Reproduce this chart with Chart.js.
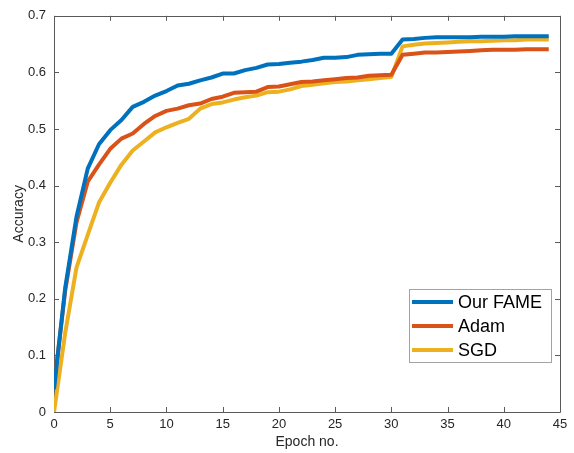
<!DOCTYPE html>
<html>
<head>
<meta charset="utf-8">
<script src="https://cdn.jsdelivr.net/npm/chart.js@4/dist/chart.umd.min.js"></script>
<style>
  html, body { margin: 0; padding: 0; background: #fff; }
  #wrap { width: 574px; height: 453px; }
</style>
</head>
<body>
<div id="wrap"><canvas id="c" width="574" height="453"></canvas></div>
<script>
const epochs = [0,1,2,3,4,5,6,7,8,9,10,11,12,13,14,15,16,17,18,19,20,21,22,23,24,25,26,27,28,29,30,31,32,33,34,35,36,37,38,39,40,41,42,43,44];
const seriesNames = ['Our FAME', 'Adam', 'SGD'];
const fame = [0.04,0.22,0.345,0.43,0.473,0.498,0.516,0.539,0.548,0.559,0.567,0.577,0.580,0.586,0.591,0.598,0.598,0.604,0.608,0.614,0.615,0.617,0.619,0.622,0.626,0.626,0.627,0.631,0.632,0.633,0.633,0.658,0.659,0.661,0.662,0.662,0.662,0.662,0.663,0.663,0.663,0.664,0.664,0.664,0.664];
const adam = [0.045,0.215,0.335,0.407,0.437,0.465,0.483,0.492,0.509,0.523,0.532,0.536,0.542,0.545,0.553,0.557,0.564,0.565,0.566,0.574,0.575,0.579,0.583,0.584,0.586,0.588,0.590,0.591,0.594,0.595,0.596,0.631,0.633,0.635,0.635,0.636,0.637,0.638,0.639,0.640,0.640,0.640,0.641,0.641,0.641];
const sgd = [0.0,0.14,0.255,0.313,0.37,0.405,0.437,0.462,0.478,0.494,0.503,0.511,0.518,0.536,0.544,0.547,0.552,0.556,0.559,0.565,0.566,0.570,0.576,0.578,0.581,0.583,0.584,0.586,0.588,0.590,0.592,0.646,0.649,0.651,0.652,0.653,0.654,0.655,0.655,0.656,0.657,0.657,0.658,0.658,0.658];
const xTicks = [0,5,10,15,20,25,30,35,40,45];
const yTicks = [0,0.1,0.2,0.3,0.4,0.5,0.6,0.7];
const colors = ['#0072BD', '#D95319', '#EDB120'];

const FONT = "'Liberation Sans', Arial, Helvetica, sans-serif";
const AXIS_COLOR = '#5a5a5a';
const TEXT_COLOR = '#262626';

function pts(vals) { return epochs.map((e, i) => ({ x: e, y: vals[i] })); }

const boxPlugin = {
  id: 'matlabBox',
  beforeDatasetsDraw(chart) {
    const { ctx, chartArea: a, scales: { x, y } } = chart;
    ctx.save();
    ctx.strokeStyle = AXIS_COLOR;
    ctx.lineWidth = 1;
    ctx.beginPath();
    ctx.rect(Math.round(a.left) + 0.5, Math.round(a.top) + 0.5, Math.round(a.right - a.left), Math.round(a.bottom - a.top));
    ctx.stroke();
    const tl = 5;
    ctx.beginPath();
    xTicks.forEach(v => {
      const px = Math.round(x.getPixelForValue(v)) + 0.5;
      ctx.moveTo(px, a.bottom); ctx.lineTo(px, a.bottom - tl);
      ctx.moveTo(px, a.top); ctx.lineTo(px, a.top + tl);
    });
    yTicks.forEach(v => {
      const py = Math.round(y.getPixelForValue(v)) + 0.5;
      ctx.moveTo(a.left, py); ctx.lineTo(a.left + tl, py);
      ctx.moveTo(a.right, py); ctx.lineTo(a.right - tl, py);
    });
    ctx.stroke();
    ctx.restore();
  },
  afterDraw(chart) {
    const { ctx } = chart;
    const bx = 409.5, by = 289.5, bw = 142, bh = 73;
    ctx.save();
    ctx.fillStyle = '#ffffff';
    ctx.fillRect(bx, by, bw, bh);
    ctx.strokeStyle = '#a3a3a3';
    ctx.lineWidth = 1;
    ctx.strokeRect(bx, by, bw, bh);
    ctx.font = '18px ' + FONT;
    ctx.textBaseline = 'middle';
    ctx.textAlign = 'left';
    chart.data.datasets.forEach((ds, i) => {
      const cy = 302 + i * 24;
      ctx.strokeStyle = ds.borderColor;
      ctx.lineWidth = 4;
      ctx.beginPath();
      ctx.moveTo(412, cy); ctx.lineTo(453, cy);
      ctx.stroke();
      ctx.fillStyle = '#000';
      ctx.fillText(ds.label, 458, cy + 1);
    });
    ctx.restore();
  }
};

new Chart(document.getElementById('c'), {
  type: 'line',
  data: {
    datasets: [
      { label: seriesNames[0], data: pts(fame), borderColor: colors[0] },
      { label: seriesNames[1], data: pts(adam), borderColor: colors[1] },
      { label: seriesNames[2], data: pts(sgd), borderColor: colors[2] }
    ].map(d => Object.assign(d, { borderWidth: 4, pointRadius: 0, tension: 0, fill: false, borderJoinStyle: 'round', borderCapStyle: 'butt' }))
  },
  options: {
    responsive: false,
    animation: false,
    devicePixelRatio: 1,
    layout: { padding: { top: 13, right: 14, left: 0, bottom: 0 } },
    plugins: { legend: { display: false }, tooltip: { enabled: false } },
    scales: {
      x: {
        type: 'linear', min: 0, max: 45,
        afterFit: s => { s.height = 41; },
        afterBuildTicks: s => { s.ticks = xTicks.map(v => ({ value: v })); },
        grid: { display: false, drawTicks: false },
        border: { display: false },
        ticks: { color: TEXT_COLOR, font: { family: FONT, size: 13 }, padding: 5, maxRotation: 0 },
        title: { display: true, text: 'Epoch no.', color: TEXT_COLOR, font: { family: FONT, size: 14 }, padding: { top: 0, bottom: 2 } }
      },
      y: {
        type: 'linear', min: 0, max: 0.7,
        afterFit: s => { s.width = 54; },
        afterBuildTicks: s => { s.ticks = yTicks.map(v => ({ value: v })); },
        grid: { display: false, drawTicks: false },
        border: { display: false },
        ticks: { color: TEXT_COLOR, font: { family: FONT, size: 13 }, padding: 8, callback: v => String(Math.round(v * 10) / 10) },
        title: { display: true, text: 'Accuracy', color: TEXT_COLOR, font: { family: FONT, size: 14 }, padding: { top: 11, bottom: 0 } }
      }
    }
  },
  plugins: [boxPlugin]
});
</script>
</body>
</html>
